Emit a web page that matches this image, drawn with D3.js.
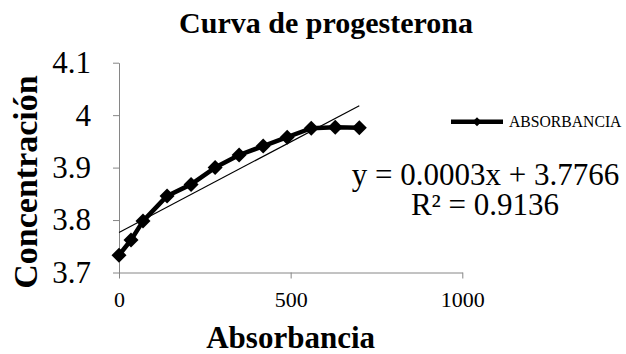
<!DOCTYPE html>
<html>
<head>
<meta charset="utf-8">
<script src="https://cdn.jsdelivr.net/npm/d3@7"></script>
<style>
  html, body { margin: 0; padding: 0; background: #fff; }
  svg { display: block; }
  svg text { font-family: "Liberation Serif", "Times New Roman", serif !important; fill: #000; }
</style>
</head>
<body>
<svg id="chart" width="626" height="354"></svg>
<script>
// ---- data ----
const absorbancia = [0, 35, 70, 140, 210, 280, 350, 420, 490, 560, 630, 700];
const concentracion = [3.733, 3.762, 3.798, 3.846, 3.868, 3.900, 3.924, 3.941, 3.958, 3.975, 3.977, 3.976];
const xTicks = [0, 500, 1000];
const yTicks = [3.7, 3.8, 3.9, 4.0, 4.1];
const yTickLabels = ["3.7", "3.8", "3.9", "4", "4.1"];
const seriesName = "ABSORBANCIA";
const titleText = "Curva de progesterona";
const xTitle = "Absorbancia";
const yTitle = "Concentración";
const eqLine1 = "y = 0.0003x + 3.7766";
const eqLine2 = "R² = 0.9136";

// ---- layout ----
const FONT = "Liberation Serif, Times New Roman, serif";
const svg = d3.select("#chart").attr("font-family", FONT);
const x = d3.scaleLinear().domain([0, 1000]).range([119, 462.3]);
const y = d3.scaleLinear().domain([3.7, 4.1]).range([272.5, 62.7]);
const axisColor = "#868686";

// axes
const gx = svg.append("g").attr("transform", `translate(0,${y(3.7)})`)
  .call(d3.axisBottom(x).tickValues(xTicks).tickFormat(d3.format("d"))
    .tickSize(6).tickSizeOuter(0).tickPadding(13));
gx.attr("font-family", FONT).attr("font-size", 22);
gx.select(".domain").attr("stroke", axisColor);
gx.selectAll(".tick line").attr("stroke", axisColor);
gx.selectAll(".tick text").attr("fill", "#000");

const gy = svg.append("g").attr("transform", `translate(${x(0)},0)`)
  .call(d3.axisLeft(y).tickValues(yTicks).tickFormat((d, i) => yTickLabels[i])
    .tickSize(6).tickSizeOuter(0).tickPadding(22));
gy.attr("font-family", FONT).attr("font-size", 31);
gy.select(".domain").attr("stroke", axisColor);
gy.selectAll(".tick line").attr("stroke", axisColor);
gy.selectAll(".tick text").attr("fill", "#000");

// trendline (least squares from data)
const n = absorbancia.length;
const mx = d3.mean(absorbancia), my = d3.mean(concentracion);
let sxy = 0, sxx = 0;
for (let i = 0; i < n; i++) { sxy += (absorbancia[i]-mx)*(concentracion[i]-my); sxx += (absorbancia[i]-mx)**2; }
const slope = sxy / sxx, intercept = my - slope * mx;
const x0 = d3.min(absorbancia), x1 = d3.max(absorbancia);
svg.append("line")
  .attr("x1", x(x0)).attr("y1", y(intercept + slope * x0))
  .attr("x2", x(x1)).attr("y2", y(intercept + slope * x1))
  .attr("stroke", "#000").attr("stroke-width", 1.2);

// series line
const pts = absorbancia.map((d, i) => [d, concentracion[i]]);
svg.append("path")
  .attr("d", d3.line().x(d => x(d[0])).y(d => y(d[1]))(pts))
  .attr("fill", "none").attr("stroke", "#000").attr("stroke-width", 4.5)
  .attr("stroke-linejoin", "round");

// diamond markers
const diamond = r => `M0,${-r}L${r},0L0,${r}L${-r},0Z`;
svg.append("g").selectAll("path").data(pts).join("path")
  .attr("transform", d => `translate(${x(d[0])},${y(d[1])})`)
  .attr("d", diamond(7.5)).attr("fill", "#000");

// title
svg.append("text").attr("x", 326).attr("y", 33).attr("text-anchor", "middle")
  .attr("font-size", 30).attr("font-weight", "bold").text(titleText);

// x title
svg.append("text").attr("x", (x(0) + x(1000)) / 2).attr("y", 348).attr("text-anchor", "middle")
  .attr("font-size", 31).attr("font-weight", "bold").text(xTitle);

// y title
svg.append("text").attr("transform", "translate(37,182) rotate(-90)").attr("text-anchor", "middle")
  .attr("font-size", 34).attr("font-weight", "bold").text(yTitle);

// legend
const lg = svg.append("g");
lg.append("line").attr("x1", 451).attr("x2", 503).attr("y1", 121.7).attr("y2", 121.7)
  .attr("stroke", "#000").attr("stroke-width", 4.5);
lg.append("path").attr("transform", "translate(477,121.7)").attr("d", diamond(4.5)).attr("fill", "#000");
lg.append("text").attr("x", 509).attr("y", 126.5).attr("font-size", 15.7).text(seriesName);

// equation
svg.append("text").attr("x", 485.5).attr("y", 185).attr("text-anchor", "middle")
  .attr("font-size", 31).text(eqLine1);
svg.append("text").attr("x", 485).attr("y", 215).attr("text-anchor", "middle")
  .attr("font-size", 31).text(eqLine2);
</script>
</body>
</html>
